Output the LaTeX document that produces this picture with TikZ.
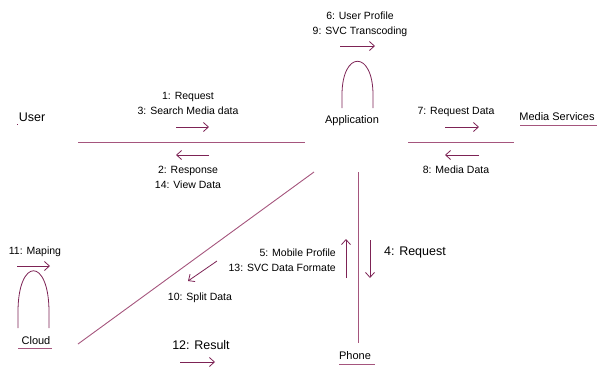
\documentclass[tikz,border=0pt]{standalone}
\usepackage{fontspec}
\setmainfont{Liberation Sans}
\usetikzlibrary{arrows.meta}
\definecolor{linkc}{RGB}{165,85,125}
\definecolor{msgc}{RGB}{125,35,85}
\begin{document}
\begin{tikzpicture}[x=1pt,y=-1pt,
  obj/.style={inner sep=0pt, font=\fontsize{11}{13}\selectfont},
  lbl/.style={inner sep=0pt, align=center, font=\fontsize{10.5}{15}\selectfont},
  biglbl/.style={inner sep=0pt, font=\fontsize{12.5}{15}\selectfont},
  link/.style={draw=linkc, line width=0.9pt},
  uline/.style={draw=linkc, line width=0.9pt},
  msg/.style={draw=msgc, line width=0.8pt, -{Straight Barb[length=5pt,width=9pt]}},
  selfloop/.style={draw=msgc, line width=0.8pt}]
\useasboundingbox (0,0) rectangle (597,373);

% objects
\node[obj, font=\fontsize{12.5}{15}\selectfont] (user) at (32,117) {User};
\node[obj] (app) at (352,121) {Application};
\node[obj] (media) at (557,117) {Media Services};
\node[obj] (phone) at (355,356) {Phone};
\node[obj] (cloud) at (36,341) {Cloud};
\fill[msgc] (16.5,123.5) rectangle (18,125);

% underlines of the named objects
\draw[uline] (520,125) -- (597,125);
\draw[uline] (339,364) -- (375,364);
\draw[uline] (18,348) -- (52,348);

% link end points
\coordinate (uA) at (78,142);
\coordinate (aU) at (305,142);
\coordinate (aM) at (408,142);
\coordinate (mA) at (514,142);
\coordinate (aP) at (358,172);
\coordinate (pA) at (358,343);
\coordinate (aC) at (314,172);
\coordinate (cA) at (78,344);

% links
\draw[link] (uA) -- (aU);
\draw[link] (aM) -- (mA);
\draw[link] (aP) -- (pA);
\draw[link] (aC) -- (cA);

% self links
\draw[selfloop] (342,108) -- (342,95) .. controls (342,50) and (373,50) .. (373,95) -- (373,108);
\draw[selfloop] (18,328) -- (18,312) .. controls (18,257) and (49,257) .. (49,312) -- (49,328);

% messages User - Application
\node[lbl] (m1) at (188,103.5) {1: Request\\3: Search Media data};
\draw[msg] (176,127) -- (209,127);
\draw[msg] (209,155) -- (176,155);
\node[lbl] (m2) at (188,177.5) {2: Response\\14: View Data};

% messages on Application itself
\node[lbl] (m6) at (360,24) {6: User Profile\\9: SVC Transcoding};
\draw[msg] (340,46) -- (375,46);

% messages Application - Media Services
\node[lbl] (m7) at (456,112) {7: Request Data};
\draw[msg] (445,127) -- (479,127);
\draw[msg] (479,155) -- (445,155);
\node[lbl] (m8) at (456,170) {8: Media Data};

% messages Application - Phone
\node[lbl, align=right, anchor=east] (m5) at (336,260) {5: Mobile Profile\\13: SVC Data Formate};
\draw[msg] (346,278) -- (346,239);
\draw[msg] (370,240) -- (370,278);
\node[biglbl, anchor=west] (m4) at (384,252) {4: Request};

% messages Application - Cloud
\draw[msg] (217,261) -- (188,281);
\node[lbl] (m10) at (200,298) {10: Split Data};
\node[biglbl] (m12) at (201,345) {12: Result};
\draw[msg] (180,362) -- (215,362);

% message on Cloud itself
\node[lbl] (m11) at (35,252) {11: Maping};
\draw[msg] (17,266) -- (50,266);
\end{tikzpicture}
\end{document}
